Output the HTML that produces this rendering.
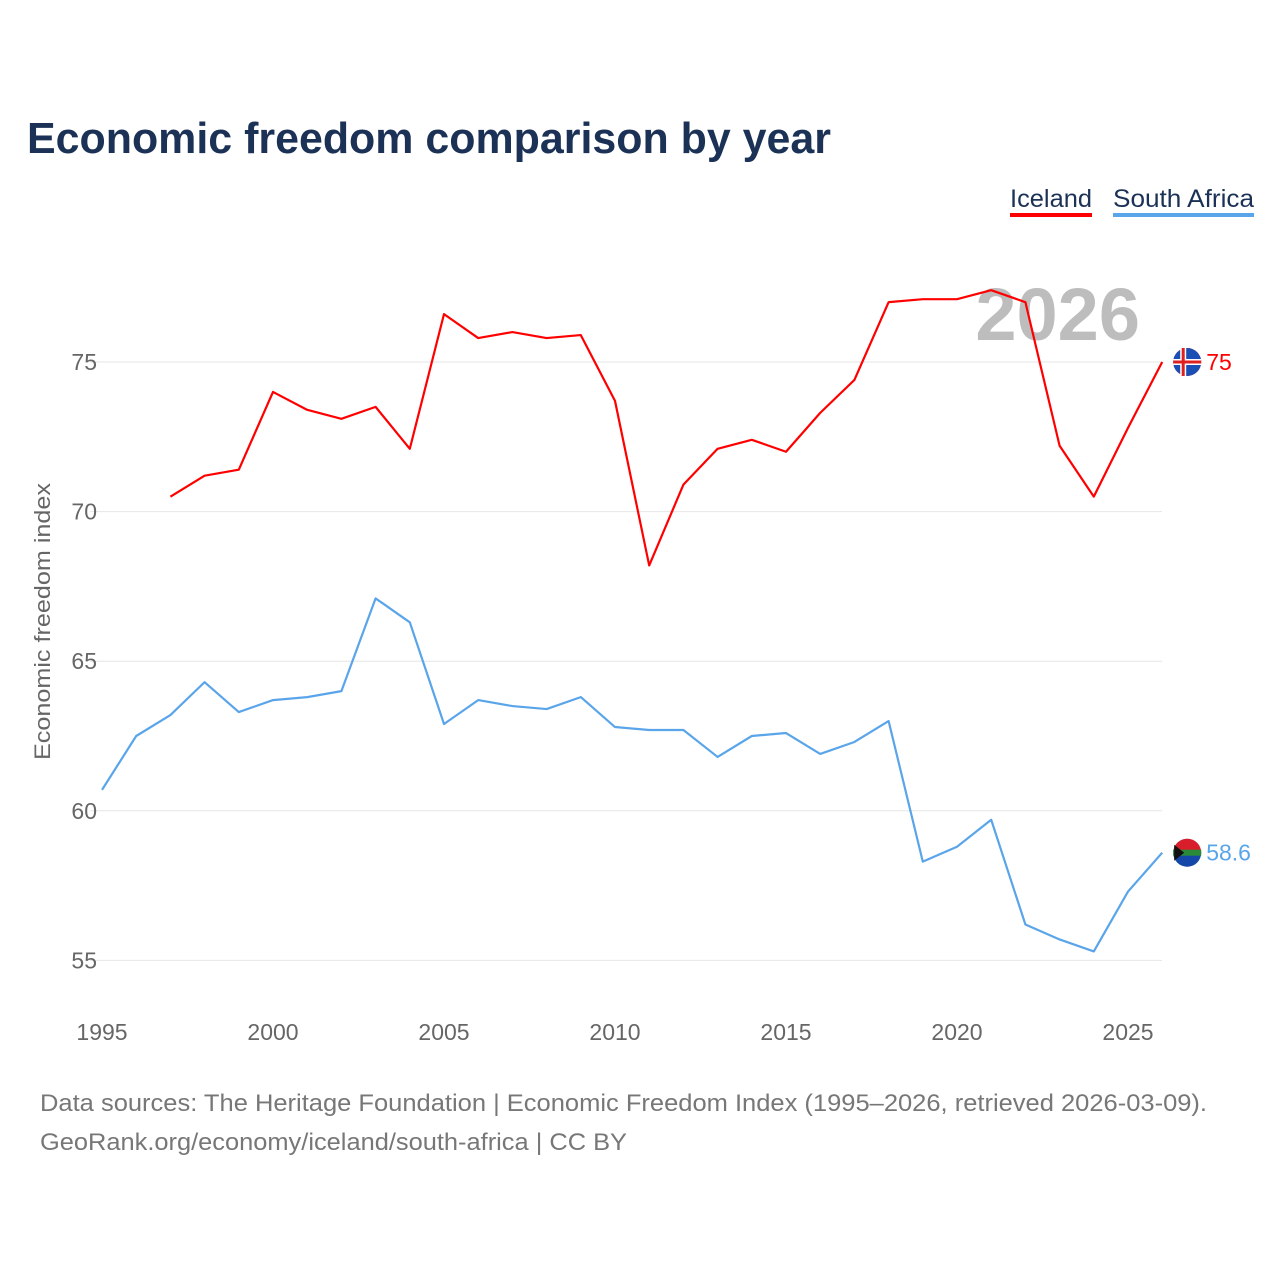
<!DOCTYPE html>
<html><head><meta charset="utf-8"><style>
body{margin:0;background:#fff;font-family:"Liberation Sans",sans-serif;}
#wrap{position:relative;width:1280px;height:1280px;overflow:hidden;}
</style></head><body>
<div id="wrap">
<svg id="chart" width="1280" height="1280">
<text x="27" y="153" font-size="44" font-weight="bold" fill="#1b3155" textLength="804" lengthAdjust="spacingAndGlyphs">Economic freedom comparison by year</text>
<g><text x="1010" y="207" font-size="25" fill="#1b3155" textLength="82" lengthAdjust="spacingAndGlyphs">Iceland</text><rect x="1010" y="213" width="82" height="4" fill="#f00"/></g>
<g><text x="1113" y="207" font-size="25" fill="#1b3155" textLength="141" lengthAdjust="spacingAndGlyphs">South Africa</text><rect x="1113" y="213" width="141" height="4" fill="#5aa5ea"/></g>
<text x="1140" y="340" font-size="74" font-weight="bold" fill="#bdbdbd" text-anchor="end">2026</text>
<g id="grid"></g><g id="xt"></g><g id="lines"></g>
<text transform="translate(50,760) rotate(-90)" font-size="22" fill="#666" textLength="277" lengthAdjust="spacingAndGlyphs">Economic freedom index</text>
<text x="40" y="1111" font-size="24" fill="#777" textLength="1167" lengthAdjust="spacingAndGlyphs">Data sources: The Heritage Foundation | Economic Freedom Index (1995–2026, retrieved 2026-03-09).</text>
<text x="40" y="1150" font-size="24" fill="#777" textLength="587" lengthAdjust="spacingAndGlyphs">GeoRank.org/economy/iceland/south-africa | CC BY</text>
</svg></div>
<script>
const yTicks=[55,60,65,70,75];
const xTicks=[1995,2000,2005,2010,2015,2020,2025];
const icelandYears=[1997,1998,1999,2000,2001,2002,2003,2004,2005,2006,2007,2008,2009,2010,2011,2012,2013,2014,2015,2016,2017,2018,2019,2020,2021,2022,2023,2024,2025,2026];
const icelandValues=[70.5,71.2,71.4,74.0,73.4,73.1,73.5,72.1,76.6,75.8,76.0,75.8,75.9,73.7,68.2,70.9,72.1,72.4,72.0,73.3,74.4,77.0,77.1,77.1,77.4,77.0,72.2,70.5,72.8,75.0];
const saYears=[1995,1996,1997,1998,1999,2000,2001,2002,2003,2004,2005,2006,2007,2008,2009,2010,2011,2012,2013,2014,2015,2016,2017,2018,2019,2020,2021,2022,2023,2024,2025,2026];
const saValues=[60.7,62.5,63.2,64.3,63.3,63.7,63.8,64.0,67.1,66.3,62.9,63.7,63.5,63.4,63.8,62.8,62.7,62.7,61.8,62.5,62.6,61.9,62.3,63.0,58.3,58.8,59.7,56.2,55.7,55.3,57.3,58.6];
const NS="http://www.w3.org/2000/svg";
const X=y=>102+(y-1995)*34.2;
const Y=v=>362+(75-v)*29.92;
function mk(t,a,p){const e=document.createElementNS(NS,t);for(const k in a)e.setAttribute(k,a[k]);p.appendChild(e);return e;}
const grid=document.getElementById('grid'),xt=document.getElementById('xt'),lines=document.getElementById('lines');
yTicks.forEach(v=>{
 const l=mk('line',{x1:90,x2:1162,y1:Y(v),y2:Y(v),stroke:'#e6e6e6','stroke-width':1},grid);
 
 
 const t=mk('text',{x:97,y:Y(v)+8,'font-size':23,fill:'#666','text-anchor':'end'},grid);t.textContent=v;
 
 
});
xTicks.forEach(v=>{
 const t=mk('text',{x:X(v),y:1040,'font-size':23,fill:'#666','text-anchor':'middle'},xt);t.textContent=v;
 
 
});
function series(ys,vs,col,name){
 const p=mk('polyline',{points:ys.map((y,i)=>X(y)+','+Y(vs[i])).join(' '),fill:'none',stroke:col,'stroke-width':2.2,'stroke-linejoin':'round'},lines);
 
 
 const lx=X(ys[ys.length-1]),lv=vs[vs.length-1],ly=Y(lv);
 const c=mk('circle',{cx:lx+25,cy:ly,r:14,fill:col},lines);
 
 
 const t=mk('text',{x:lx+44,y:ly+8,'font-size':23,fill:col},lines);t.textContent=lv;
 
 
 return [lx+25,ly];
}
const [ix,iy]=series(icelandYears,icelandValues,'#ff0000','iceland');
mk('circle',{cx:ix,cy:iy,r:14,fill:'#1a4fb5'},lines);
mk('rect',{x:ix-14,y:iy-3,width:28,height:6,fill:'#fff'},lines);
mk('rect',{x:ix-7,y:iy-14,width:6,height:28,fill:'#fff'},lines);
mk('rect',{x:ix-14,y:iy-1.5,width:28,height:3,fill:'#e02020'},lines);
mk('rect',{x:ix-5.5,y:iy-14,width:3,height:28,fill:'#e02020'},lines);
const [sx,sy]=series(saYears,saValues,'#5aa5ea','south-africa');
mk('path',{d:`M${sx-14},${sy} A14,14 0 0 1 ${sx+14},${sy} Z`,fill:'#d81e2a'},lines);
mk('path',{d:`M${sx-14},${sy} A14,14 0 0 0 ${sx+14},${sy} Z`,fill:'#1547a8'},lines);
mk('rect',{x:sx-14,y:sy-3,width:28,height:6,fill:'#2a8a3a'},lines);
mk('path',{d:`M${sx-13},${sy-8} L${sx-3},${sy} L${sx-13},${sy+8} Z`,fill:'#111'},lines);
</script>
</body></html>
